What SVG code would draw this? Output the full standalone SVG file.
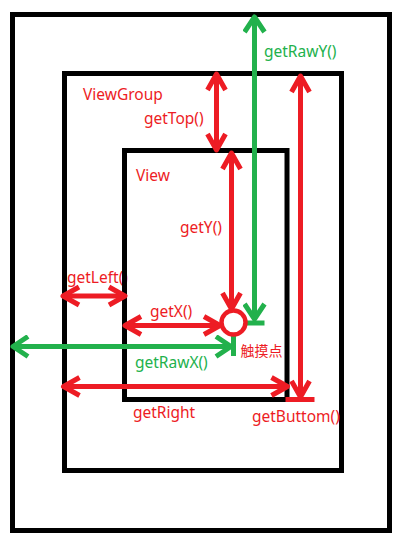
<svg xmlns="http://www.w3.org/2000/svg" width="400" height="546" viewBox="0 0 400 546">
<style>
.box{fill:none;stroke:#000;stroke-width:5}
.r{stroke:#ed1c24;stroke-width:5;fill:none}
.g{stroke:#22b14c;stroke-width:5;fill:none}
.ra{marker-start:url(#mr);marker-end:url(#mr)}
.ga{marker-start:url(#mg);marker-end:url(#mg)}
text{font-family:"Noto Sans","Liberation Sans","Noto Sans CJK SC",sans-serif;font-size:15.5px}
.tr{fill:#ed1c24}
.tg{fill:#22b14c}
.cjk{font-family:"Noto Sans CJK SC",sans-serif;font-size:14px}
</style>
<defs>
<marker id="mr" viewBox="-20 -12 24 24" refX="0" refY="0" markerWidth="24" markerHeight="24" markerUnits="userSpaceOnUse" orient="auto-start-reverse">
<path d="M-16,-9 L0,0 L-16,9" fill="none" stroke="#ed1c24" stroke-width="5" stroke-linejoin="round"/>
</marker>
<marker id="mg" viewBox="-20 -12 24 24" refX="0" refY="0" markerWidth="24" markerHeight="24" markerUnits="userSpaceOnUse" orient="auto-start-reverse">
<path d="M-15,-10 L0,0 L-15,10" fill="none" stroke="#22b14c" stroke-width="5" stroke-linejoin="round"/>
</marker>
</defs>
<rect width="400" height="546" fill="#fff"/>
<g id="window"><rect class="box" x="12.5" y="14.5" width="377" height="516"/></g>
<g id="viewgroup"><rect class="box" x="64.5" y="73.5" width="277" height="397"/><text class="tr" x="83" y="100">ViewGroup</text></g>
<g id="label-getLeft"><text class="tr" x="67" y="282.5">getLeft()</text></g>
<g id="view"><rect class="box" x="124.5" y="150.5" width="162.5" height="249"/><text class="tr" x="136" y="181">View</text></g>
<g id="connectors">
<line class="r ra" x1="216.5" y1="74" x2="216.5" y2="150"/>
<line class="r ra" x1="231.5" y1="153" x2="231.5" y2="309"/>
<line class="g ga" x1="254.5" y1="17" x2="254.5" y2="319"/>
<line class="g" x1="244" y1="323" x2="264.5" y2="323"/>
<line class="r ra" x1="300.5" y1="76" x2="300.5" y2="397"/>
<line class="r" x1="285.5" y1="399.5" x2="314.5" y2="399.5"/>
<line class="r ra" x1="63" y1="296" x2="125" y2="296"/>
<line class="r ra" x1="125" y1="325.5" x2="220" y2="325.5"/>
<line class="g ga" x1="13" y1="346.5" x2="231" y2="346.5"/>
<line class="g" x1="233.5" y1="336" x2="233.5" y2="356"/>
<line class="r ra" x1="63.5" y1="386.5" x2="287.5" y2="386.5"/>
</g>
<g id="touch"><circle cx="233.5" cy="322.5" r="12" fill="#fff" stroke="#ed1c24" stroke-width="4.5"/><text class="tr cjk" x="240.5" y="356">触摸点</text></g>
<g id="labels">
<text class="tg" x="264" y="57">getRawY()</text>
<text class="tr" x="144" y="124">getTop()</text>
<text class="tr" x="180" y="233">getY()</text>
<text class="tr" x="150" y="317">getX()</text>
<text class="tg" x="135" y="367.5">getRawX()</text>
<text class="tr" x="133" y="418">getRight</text>
<text class="tr" x="252" y="422">getButtom()</text>
</g>
</svg>
